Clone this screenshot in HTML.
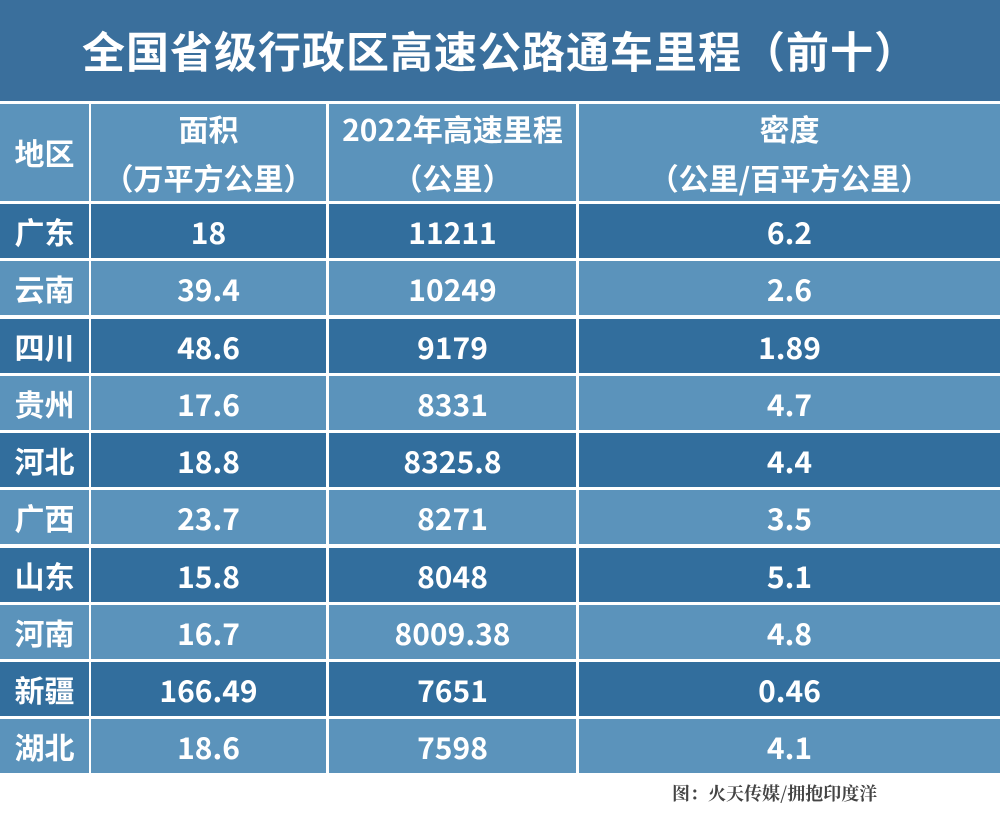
<!DOCTYPE html>
<html><head><meta charset="utf-8"><style>
body{margin:0;width:1000px;height:837px;background:#fff;position:relative;overflow:hidden;font-family:"Noto Sans CJK SC","Liberation Sans",sans-serif;font-weight:bold;color:#fff}
.t{position:absolute;left:0;top:0;width:1000px;height:101px;background:#3a6f9c;font-size:43px;line-height:101px;text-align:center;letter-spacing:1px}
.r{position:absolute;left:0;width:1000px;height:54px}
.r div{position:absolute;top:0;height:100%;display:flex;align-items:center;justify-content:center;text-align:center;font-size:30px}
.a{left:0;width:89px}.b{left:91px;width:235px}.c{left:329px;width:247px}.d{left:579px;width:421px}
.L div{background:#5b93bb}.D div{background:#326e9d}
.h{height:97px;line-height:49px}
.src{position:absolute;left:672px;top:780px;font-family:"Noto Serif CJK SC",serif;font-size:18px;color:#444;font-weight:bold}
</style></head><body>
<div class="t">全国省级行政区高速公路通车里程（前十）</div>
<div class="r L h" style="top:104px"><div class="a">地区</div><div class="b">面积<br>（万平方公里）</div><div class="c">2022年高速里程<br>（公里）</div><div class="d">密度<br>（公里/百平方公里）</div></div>
<div class="r D" style="top:204px"><div class="a">广东</div><div class="b">18</div><div class="c">11211</div><div class="d">6.2</div></div>
<div class="r L" style="top:261px"><div class="a">云南</div><div class="b">39.4</div><div class="c">10249</div><div class="d">2.6</div></div>
<div class="r D" style="top:319px"><div class="a">四川</div><div class="b">48.6</div><div class="c">9179</div><div class="d">1.89</div></div>
<div class="r L" style="top:376px"><div class="a">贵州</div><div class="b">17.6</div><div class="c">8331</div><div class="d">4.7</div></div>
<div class="r D" style="top:433px"><div class="a">河北</div><div class="b">18.8</div><div class="c">8325.8</div><div class="d">4.4</div></div>
<div class="r L" style="top:490px"><div class="a">广西</div><div class="b">23.7</div><div class="c">8271</div><div class="d">3.5</div></div>
<div class="r D" style="top:548px"><div class="a">山东</div><div class="b">15.8</div><div class="c">8048</div><div class="d">5.1</div></div>
<div class="r L" style="top:605px"><div class="a">河南</div><div class="b">16.7</div><div class="c">8009.38</div><div class="d">4.8</div></div>
<div class="r D" style="top:662px"><div class="a">新疆</div><div class="b">166.49</div><div class="c">7651</div><div class="d">0.46</div></div>
<div class="r L" style="top:719px"><div class="a">湖北</div><div class="b">18.6</div><div class="c">7598</div><div class="d">4.1</div></div>
<div class="src">图：火天传媒/拥抱印度洋</div>
</body></html>
